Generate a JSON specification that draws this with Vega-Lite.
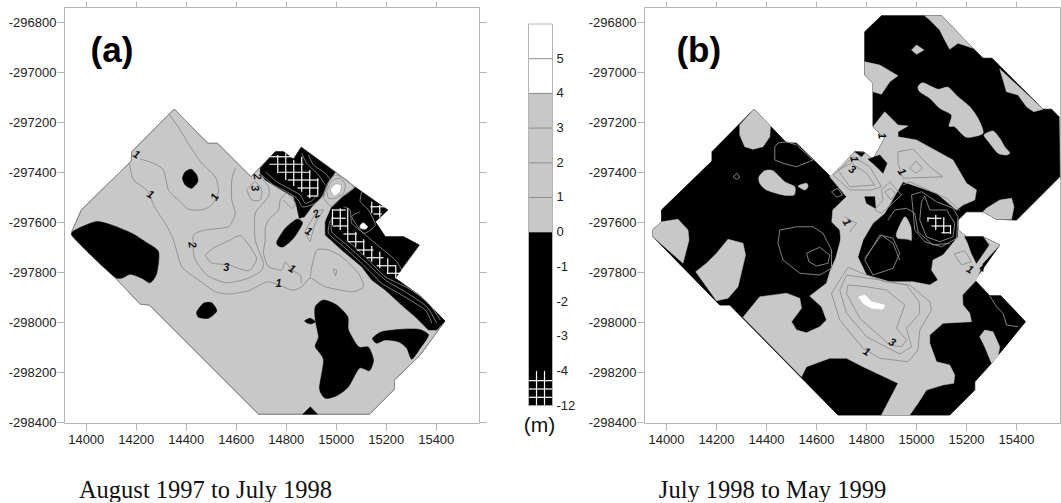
{
"$schema":"https://vega.github.io/schema/vega-lite/v6.json",
"background":"white",
"padding":{"left":7,"top":0,"right":0,"bottom":0},
"spacing":0,
"config":{"font":"Liberation Sans","view":{"stroke":null}},
"datasets":{
"aFoot":[{"id":1,"x":14354,"y":-297147},{"id":1,"x":14488,"y":-297284},{"id":1,"x":14527,"y":-297284},{"id":1,"x":14661,"y":-297418},{"id":1,"x":14758,"y":-297318},{"id":1,"x":14791,"y":-297318},{"id":1,"x":14831,"y":-297348},{"id":1,"x":14862,"y":-297300},{"id":1,"x":14998,"y":-297398},{"id":1,"x":15078,"y":-297460},{"id":1,"x":15208,"y":-297551},{"id":1,"x":15158,"y":-297598},{"id":1,"x":15198,"y":-297658},{"id":1,"x":15271,"y":-297658},{"id":1,"x":15334,"y":-297691},{"id":1,"x":15271,"y":-297778},{"id":1,"x":15238,"y":-297824},{"id":1,"x":15338,"y":-297895},{"id":1,"x":15437,"y":-297995},{"id":1,"x":15338,"y":-298131},{"id":1,"x":15235,"y":-298231},{"id":1,"x":15235,"y":-298268},{"id":1,"x":15135,"y":-298368},{"id":1,"x":14691,"y":-298368},{"id":1,"x":14254,"y":-297931},{"id":1,"x":14218,"y":-297928},{"id":1,"x":13944,"y":-297638},{"id":1,"x":13982,"y":-297551},{"id":1,"x":14182,"y":-297355},{"id":1,"x":14184,"y":-297318}],
"aBlackL":[{"id":1,"x":14698,"y":-297384},{"id":1,"x":14758,"y":-297318},{"id":1,"x":14791,"y":-297318},{"id":1,"x":14831,"y":-297348},{"id":1,"x":14862,"y":-297300},{"id":1,"x":14998,"y":-297400},{"id":1,"x":14971,"y":-297438},{"id":1,"x":14951,"y":-297491},{"id":1,"x":14904,"y":-297538},{"id":1,"x":14875,"y":-297578},{"id":1,"x":14854,"y":-297584},{"id":1,"x":14844,"y":-297538},{"id":1,"x":14831,"y":-297498},{"id":1,"x":14771,"y":-297464},{"id":1,"x":14718,"y":-297431},{"id":1,"x":14698,"y":-297404},
{"id":2,"x":15078,"y":-297460},{"id":2,"x":15208,"y":-297551},{"id":2,"x":15158,"y":-297598},{"id":2,"x":15198,"y":-297658},{"id":2,"x":15271,"y":-297658},{"id":2,"x":15334,"y":-297691},{"id":2,"x":15271,"y":-297775},{"id":2,"x":15238,"y":-297824},{"id":2,"x":15338,"y":-297895},{"id":2,"x":15437,"y":-297995},{"id":2,"x":15404,"y":-298031},{"id":2,"x":15371,"y":-298031},{"id":2,"x":15318,"y":-297978},{"id":2,"x":15271,"y":-297938},{"id":2,"x":15198,"y":-297871},{"id":2,"x":15144,"y":-297831},{"id":2,"x":15104,"y":-297778},{"id":2,"x":15024,"y":-297711},{"id":2,"x":14958,"y":-297651},{"id":2,"x":14958,"y":-297598},{"id":2,"x":14984,"y":-297538},{"id":2,"x":15024,"y":-297500},
{"id":3,"x":14868,"y":-298368},{"id":3,"x":14898,"y":-298338},{"id":3,"x":14927,"y":-298368}],
"aBlackS":[{"id":1,"x":14387,"y":-297424},{"id":1,"x":14398,"y":-297398},{"id":1,"x":14422,"y":-297388},{"id":1,"x":14444,"y":-297411},{"id":1,"x":14448,"y":-297438},{"id":1,"x":14424,"y":-297464},{"id":1,"x":14398,"y":-297451},
{"id":2,"x":13947,"y":-297638},{"id":2,"x":14038,"y":-297598},{"id":2,"x":14103,"y":-297611},{"id":2,"x":14184,"y":-297644},{"id":2,"x":14238,"y":-297678},{"id":2,"x":14291,"y":-297718},{"id":2,"x":14284,"y":-297804},{"id":2,"x":14258,"y":-297842},{"id":2,"x":14224,"y":-297824},{"id":2,"x":14178,"y":-297808},{"id":2,"x":14118,"y":-297820},{"id":2,"x":13960,"y":-297671},
{"id":3,"x":14444,"y":-297958},{"id":3,"x":14471,"y":-297924},{"id":3,"x":14504,"y":-297922},{"id":3,"x":14524,"y":-297955},{"id":3,"x":14491,"y":-297984},{"id":3,"x":14451,"y":-297980},
{"id":4,"x":14764,"y":-297678},{"id":4,"x":14798,"y":-297624},{"id":4,"x":14844,"y":-297588},{"id":4,"x":14867,"y":-297604},{"id":4,"x":14831,"y":-297664},{"id":4,"x":14791,"y":-297698},{"id":4,"x":14771,"y":-297695},
{"id":5,"x":14918,"y":-297938},{"id":5,"x":14951,"y":-297911},{"id":5,"x":15004,"y":-297931},{"id":5,"x":15048,"y":-297978},{"id":5,"x":15051,"y":-298031},{"id":5,"x":15091,"y":-298098},{"id":5,"x":15131,"y":-298100},{"id":5,"x":15151,"y":-298151},{"id":5,"x":15135,"y":-298194},{"id":5,"x":15094,"y":-298184},{"id":5,"x":15051,"y":-298258},{"id":5,"x":15004,"y":-298294},{"id":5,"x":14958,"y":-298304},{"id":5,"x":14935,"y":-298264},{"id":5,"x":14951,"y":-298151},{"id":5,"x":14918,"y":-298098},{"id":5,"x":14931,"y":-298058},{"id":5,"x":14918,"y":-297991},
{"id":6,"x":14875,"y":-297995},{"id":6,"x":14898,"y":-297984},{"id":6,"x":14918,"y":-297998},{"id":6,"x":14898,"y":-298007},
{"id":7,"x":15147,"y":-298064},{"id":7,"x":15184,"y":-298038},{"id":7,"x":15264,"y":-298028},{"id":7,"x":15331,"y":-298028},{"id":7,"x":15371,"y":-298051},{"id":7,"x":15338,"y":-298104},{"id":7,"x":15304,"y":-298148},{"id":7,"x":15284,"y":-298104},{"id":7,"x":15251,"y":-298078},{"id":7,"x":15198,"y":-298071},{"id":7,"x":15164,"y":-298084}],
"aWhite":[{"id":1,"x":14978,"y":-297471},{"id":1,"x":14998,"y":-297447},{"id":1,"x":15022,"y":-297451},{"id":1,"x":15018,"y":-297478},{"id":1,"x":14995,"y":-297495},
{"id":2,"x":15098,"y":-297611},{"id":2,"x":15111,"y":-297602},{"id":2,"x":15128,"y":-297618},{"id":2,"x":15118,"y":-297628},{"id":2,"x":15098,"y":-297624}],
"aLines":[{"id":1,"x":14334,"y":-297168},{"id":1,"x":14378,"y":-297231},{"id":1,"x":14418,"y":-297298},{"id":1,"x":14464,"y":-297364},{"id":1,"x":14518,"y":-297418},{"id":1,"x":14531,"y":-297478},{"id":1,"x":14504,"y":-297531},{"id":1,"x":14464,"y":-297551},{"id":1,"x":14411,"y":-297548},{"id":1,"x":14378,"y":-297518},{"id":1,"x":14331,"y":-297471},{"id":1,"x":14311,"y":-297391},{"id":1,"x":14271,"y":-297364},{"id":1,"x":14218,"y":-297347},
{"id":2,"x":14174,"y":-297364},{"id":2,"x":14191,"y":-297431},{"id":2,"x":14244,"y":-297471},{"id":2,"x":14278,"y":-297544},{"id":2,"x":14318,"y":-297604},{"id":2,"x":14351,"y":-297671},{"id":2,"x":14384,"y":-297778},{"id":2,"x":14451,"y":-297831},{"id":2,"x":14518,"y":-297878},{"id":2,"x":14571,"y":-297887},{"id":2,"x":14651,"y":-297874},{"id":2,"x":14731,"y":-297838},{"id":2,"x":14824,"y":-297871},{"id":2,"x":14864,"y":-297858},{"id":2,"x":14898,"y":-297824},{"id":2,"x":14958,"y":-297858},{"id":2,"x":15064,"y":-297878},{"id":2,"x":15111,"y":-297858},{"id":2,"x":15091,"y":-297804},{"id":2,"x":15024,"y":-297738},{"id":2,"x":14971,"y":-297711},{"id":2,"x":14924,"y":-297711},{"id":2,"x":14904,"y":-297778},{"id":2,"x":14898,"y":-297824},
{"id":3,"x":14598,"y":-297384},{"id":3,"x":14584,"y":-297431},{"id":3,"x":14584,"y":-297511},{"id":3,"x":14598,"y":-297564},{"id":3,"x":14571,"y":-297618},{"id":3,"x":14478,"y":-297631},{"id":3,"x":14431,"y":-297651},{"id":3,"x":14431,"y":-297718},{"id":3,"x":14438,"y":-297751},{"id":3,"x":14484,"y":-297811},{"id":3,"x":14558,"y":-297842},{"id":3,"x":14638,"y":-297828},{"id":3,"x":14698,"y":-297798},{"id":3,"x":14711,"y":-297764},{"id":3,"x":14678,"y":-297671},{"id":3,"x":14678,"y":-297564},{"id":3,"x":14731,"y":-297498},{"id":3,"x":14731,"y":-297458},{"id":3,"x":14703,"y":-297423},
{"id":4,"x":14478,"y":-297731},{"id":4,"x":14511,"y":-297703},{"id":4,"x":14578,"y":-297671},{"id":4,"x":14623,"y":-297655},{"id":4,"x":14683,"y":-297743},{"id":4,"x":14651,"y":-297794},{"id":4,"x":14571,"y":-297771},{"id":4,"x":14503,"y":-297763},{"id":4,"x":14478,"y":-297731},
{"id":5,"x":14791,"y":-297511},{"id":5,"x":14824,"y":-297544},{"id":5,"x":14838,"y":-297524},{"id":5,"x":14804,"y":-297484},{"id":5,"x":14778,"y":-297511},{"id":5,"x":14771,"y":-297551},{"id":5,"x":14731,"y":-297591},{"id":5,"x":14718,"y":-297624},{"id":5,"x":14718,"y":-297671},{"id":5,"x":14711,"y":-297724},{"id":5,"x":14731,"y":-297778},{"id":5,"x":14784,"y":-297791},{"id":5,"x":14798,"y":-297758},{"id":5,"x":14824,"y":-297791},{"id":5,"x":14858,"y":-297811},{"id":5,"x":14862,"y":-297844},
{"id":6,"x":14644,"y":-297471},{"id":6,"x":14678,"y":-297438},{"id":6,"x":14704,"y":-297471},{"id":6,"x":14698,"y":-297511},{"id":6,"x":14664,"y":-297511},{"id":6,"x":14644,"y":-297471},
{"id":7,"x":14898,"y":-297678},{"id":7,"x":14878,"y":-297638},{"id":7,"x":14904,"y":-297591},{"id":7,"x":14924,"y":-297558},{"id":7,"x":14951,"y":-297551},{"id":7,"x":14918,"y":-297604},{"id":7,"x":14898,"y":-297678},
{"id":8,"x":14991,"y":-297788},{"id":8,"x":15004,"y":-297791},{"id":8,"x":14998,"y":-297814},{"id":8,"x":14991,"y":-297788},
{"id":9,"x":14964,"y":-297478},{"id":9,"x":14984,"y":-297434},{"id":9,"x":15018,"y":-297424},{"id":9,"x":15038,"y":-297451},{"id":9,"x":15031,"y":-297484},{"id":9,"x":14998,"y":-297504},{"id":9,"x":14971,"y":-297504},{"id":9,"x":14964,"y":-297478},
{"id":10,"x":14951,"y":-297504},{"id":10,"x":14964,"y":-297451},{"id":10,"x":14998,"y":-297411},{"id":10,"x":15044,"y":-297431},{"id":10,"x":15071,"y":-297464},{"id":10,"x":15024,"y":-297500},{"id":10,"x":14984,"y":-297538},{"id":10,"x":14951,"y":-297504}],
"aDark":[{"id":1,"x":14704,"y":-297411},{"id":1,"x":14751,"y":-297451},{"id":1,"x":14804,"y":-297478},{"id":1,"x":14844,"y":-297504},{"id":1,"x":14867,"y":-297538},{"id":1,"x":14904,"y":-297531},{"id":1,"x":14938,"y":-297511},{"id":1,"x":14958,"y":-297471},
{"id":2,"x":14718,"y":-297398},{"id":2,"x":14764,"y":-297438},{"id":2,"x":14818,"y":-297468},{"id":2,"x":14858,"y":-297491},{"id":2,"x":14878,"y":-297524},{"id":2,"x":14904,"y":-297514},{"id":2,"x":14928,"y":-297491},
{"id":3,"x":14864,"y":-297324},{"id":3,"x":14884,"y":-297364},{"id":3,"x":14931,"y":-297411},{"id":3,"x":14958,"y":-297451},
{"id":4,"x":14891,"y":-297331},{"id":4,"x":14911,"y":-297371},{"id":4,"x":14958,"y":-297404},{"id":4,"x":14978,"y":-297431},
{"id":5,"x":14978,"y":-297591},{"id":5,"x":14971,"y":-297644},{"id":5,"x":15031,"y":-297698},{"id":5,"x":15104,"y":-297764},{"id":5,"x":15184,"y":-297844},{"id":5,"x":15264,"y":-297891},{"id":5,"x":15358,"y":-297951},{"id":5,"x":15384,"y":-298004},
{"id":6,"x":14984,"y":-297578},{"id":6,"x":14984,"y":-297638},{"id":6,"x":15044,"y":-297691},{"id":6,"x":15118,"y":-297758},{"id":6,"x":15198,"y":-297831},{"id":6,"x":15278,"y":-297878},{"id":6,"x":15364,"y":-297938},{"id":6,"x":15404,"y":-298004},
{"id":7,"x":15044,"y":-297671},{"id":7,"x":15118,"y":-297738},{"id":7,"x":15198,"y":-297818},{"id":7,"x":15291,"y":-297864},{"id":7,"x":15371,"y":-297924},{"id":7,"x":15418,"y":-297991},
{"id":8,"x":15031,"y":-297538},{"id":8,"x":15058,"y":-297551},{"id":8,"x":15064,"y":-297604},{"id":8,"x":15104,"y":-297638},{"id":8,"x":15158,"y":-297684},{"id":8,"x":15238,"y":-297751},{"id":8,"x":15264,"y":-297791},
{"id":9,"x":15104,"y":-297478},{"id":9,"x":15098,"y":-297518},{"id":9,"x":15131,"y":-297551},{"id":9,"x":15158,"y":-297611},{"id":9,"x":15111,"y":-297644},{"id":9,"x":15064,"y":-297578},{"id":9,"x":15098,"y":-297558}],
"aHatch":[{"x":14768,"x2":14768,"y":-297331,"y2":-297404},{"x":14800,"x2":14800,"y":-297324,"y2":-297431},{"x":14832,"x2":14832,"y":-297351,"y2":-297455},{"x":14864,"x2":14864,"y":-297338,"y2":-297478},{"x":14896,"x2":14896,"y":-297391,"y2":-297504},{"x":14928,"x2":14928,"y":-297424,"y2":-297491},
{"x":14738,"x2":14831,"y":-297338,"y2":-297338},{"x":14734,"x2":14871,"y":-297368,"y2":-297368},{"x":14771,"x2":14898,"y":-297400,"y2":-297400},{"x":14808,"x2":14931,"y":-297431,"y2":-297431},{"x":14847,"x2":14931,"y":-297463,"y2":-297463},{"x":14886,"x2":14931,"y":-297495,"y2":-297495},
{"x":14987,"x2":14987,"y":-297547,"y2":-297611},{"x":15018,"x2":15018,"y":-297544,"y2":-297631},{"x":15048,"x2":15048,"y":-297544,"y2":-297674},{"x":15080,"x2":15080,"y":-297638,"y2":-297700},{"x":15112,"x2":15112,"y":-297668,"y2":-297731},{"x":15144,"x2":15144,"y":-297695,"y2":-297758},{"x":15176,"x2":15176,"y":-297718,"y2":-297784},{"x":15208,"x2":15208,"y":-297744,"y2":-297807},{"x":15240,"x2":15240,"y":-297771,"y2":-297824},
{"x":14987,"x2":15040,"y":-297551,"y2":-297551},{"x":14987,"x2":15040,"y":-297584,"y2":-297584},{"x":14987,"x2":15048,"y":-297615,"y2":-297615},{"x":15031,"x2":15084,"y":-297647,"y2":-297647},{"x":15048,"x2":15115,"y":-297678,"y2":-297678},{"x":15084,"x2":15151,"y":-297711,"y2":-297711},{"x":15124,"x2":15191,"y":-297742,"y2":-297742},{"x":15164,"x2":15238,"y":-297774,"y2":-297774},{"x":15204,"x2":15258,"y":-297804,"y2":-297804},
{"x":15144,"x2":15144,"y":-297518,"y2":-297564},{"x":15176,"x2":15176,"y":-297531,"y2":-297580},{"x":15138,"x2":15198,"y":-297538,"y2":-297538},{"x":15151,"x2":15184,"y":-297567,"y2":-297567}],
"aText":[{"g":"r30","t":"1","x":14202,"y":-297331},{"g":"r30","t":"1","x":14824,"y":-297788},{"g":"r30","t":"1","x":14891,"y":-297638},{"g":"r30","t":"1","x":14258,"y":-297491},{"g":"rm60","t":"1","x":14518,"y":-297500},{"g":"r80","t":"2","x":14424,"y":-297691},{"g":"r0","t":"3","x":14562,"y":-297784},{"g":"r0","t":"1","x":14771,"y":-297848},{"g":"rm30","t":"2","x":14924,"y":-297568},{"g":"r80","t":"3","x":14675,"y":-297464},{"g":"r80","t":"2","x":14684,"y":-297418}],
"bFoot":[{"id":1,"x":14352,"y":-297148},{"id":1,"x":14482,"y":-297282},{"id":1,"x":14522,"y":-297284},{"id":1,"x":14659,"y":-297418},{"id":1,"x":14755,"y":-297318},{"id":1,"x":14788,"y":-297318},{"id":1,"x":14828,"y":-297348},{"id":1,"x":14875,"y":-297264},{"id":1,"x":14828,"y":-297218},{"id":1,"x":14828,"y":-297044},{"id":1,"x":14795,"y":-297011},{"id":1,"x":14795,"y":-296838},{"id":1,"x":14862,"y":-296774},{"id":1,"x":15102,"y":-296774},{"id":1,"x":15228,"y":-296904},{"id":1,"x":15268,"y":-296944},{"id":1,"x":15304,"y":-296944},{"id":1,"x":15508,"y":-297148},{"id":1,"x":15542,"y":-297148},{"id":1,"x":15572,"y":-297178},{"id":1,"x":15575,"y":-297418},{"id":1,"x":15402,"y":-297591},{"id":1,"x":15322,"y":-297588},{"id":1,"x":15268,"y":-297558},{"id":1,"x":15202,"y":-297558},{"id":1,"x":15168,"y":-297591},{"id":1,"x":15168,"y":-297631},{"id":1,"x":15202,"y":-297658},{"id":1,"x":15268,"y":-297658},{"id":1,"x":15335,"y":-297691},{"id":1,"x":15235,"y":-297831},{"id":1,"x":15295,"y":-297894},{"id":1,"x":15339,"y":-297894},{"id":1,"x":15438,"y":-297998},{"id":1,"x":15302,"y":-298164},{"id":1,"x":15235,"y":-298238},{"id":1,"x":15235,"y":-298271},{"id":1,"x":15135,"y":-298371},{"id":1,"x":14688,"y":-298371},{"id":1,"x":14255,"y":-297931},{"id":1,"x":14215,"y":-297931},{"id":1,"x":13948,"y":-297658},{"id":1,"x":13946,"y":-297631},{"id":1,"x":13982,"y":-297598},{"id":1,"x":13982,"y":-297551},{"id":1,"x":14184,"y":-297355},{"id":1,"x":14184,"y":-297318}],
"bGreyL":[{"id":1,"x":14352,"y":-297148},{"id":1,"x":14418,"y":-297215},{"id":1,"x":14415,"y":-297258},{"id":1,"x":14388,"y":-297298},{"id":1,"x":14348,"y":-297308},{"id":1,"x":14315,"y":-297298},{"id":1,"x":14295,"y":-297251},{"id":1,"x":14295,"y":-297211},
{"id":2,"x":13946,"y":-297631},{"id":2,"x":13982,"y":-297598},{"id":2,"x":14048,"y":-297588},{"id":2,"x":14088,"y":-297631},{"id":2,"x":14092,"y":-297671},{"id":2,"x":14068,"y":-297764},{"id":2,"x":13948,"y":-297658},
{"id":3,"x":14119,"y":-297798},{"id":3,"x":14162,"y":-297764},{"id":3,"x":14202,"y":-297724},{"id":3,"x":14248,"y":-297668},{"id":3,"x":14308,"y":-297684},{"id":3,"x":14318,"y":-297731},{"id":3,"x":14288,"y":-297858},{"id":3,"x":14248,"y":-297904},{"id":3,"x":14202,"y":-297914},
{"id":4,"x":14308,"y":-297980},{"id":4,"x":14375,"y":-297898},{"id":4,"x":14482,"y":-297884},{"id":4,"x":14535,"y":-297904},{"id":4,"x":14542,"y":-297944},{"id":4,"x":14502,"y":-297998},{"id":4,"x":14522,"y":-298031},{"id":4,"x":14562,"y":-298042},{"id":4,"x":14615,"y":-298018},{"id":4,"x":14642,"y":-297991},{"id":4,"x":14622,"y":-297938},{"id":4,"x":14575,"y":-297895},{"id":4,"x":14642,"y":-297844},{"id":4,"x":14655,"y":-297799},{"id":4,"x":14679,"y":-297743},{"id":4,"x":14695,"y":-297683},{"id":4,"x":14707,"y":-297631},{"id":4,"x":14787,"y":-297631},{"id":4,"x":14787,"y":-297671},{"id":4,"x":14767,"y":-297738},{"id":4,"x":14802,"y":-297811},{"id":4,"x":14895,"y":-297838},{"id":4,"x":14988,"y":-297838},{"id":4,"x":15055,"y":-297851},{"id":4,"x":15088,"y":-297831},{"id":4,"x":15062,"y":-297791},{"id":4,"x":15068,"y":-297751},{"id":4,"x":15108,"y":-297731},{"id":4,"x":15168,"y":-297658},{"id":4,"x":15168,"y":-297631},{"id":4,"x":15202,"y":-297658},{"id":4,"x":15268,"y":-297658},{"id":4,"x":15335,"y":-297691},{"id":4,"x":15268,"y":-297764},{"id":4,"x":15242,"y":-297831},{"id":4,"x":15186,"y":-297891},{"id":4,"x":15188,"y":-297931},{"id":4,"x":15215,"y":-297964},{"id":4,"x":15222,"y":-297998},{"id":4,"x":15108,"y":-298004},{"id":4,"x":15055,"y":-298051},{"id":4,"x":15055,"y":-298084},{"id":4,"x":15082,"y":-298158},{"id":4,"x":15135,"y":-298171},{"id":4,"x":15155,"y":-298211},{"id":4,"x":15151,"y":-298244},{"id":4,"x":15108,"y":-298251},{"id":4,"x":15042,"y":-298271},{"id":4,"x":15008,"y":-298324},{"id":4,"x":14975,"y":-298371},{"id":4,"x":14862,"y":-298371},{"id":4,"x":14928,"y":-298244},{"id":4,"x":14788,"y":-298178},{"id":4,"x":14722,"y":-298144},{"id":4,"x":14655,"y":-298144},{"id":4,"x":14562,"y":-298178},{"id":4,"x":14542,"y":-298218},
{"id":5,"x":14828,"y":-297218},{"id":5,"x":14875,"y":-297158},{"id":5,"x":14928,"y":-297211},{"id":5,"x":14968,"y":-297215},{"id":5,"x":14928,"y":-297238},{"id":5,"x":14928,"y":-297258},{"id":5,"x":15002,"y":-297271},{"id":5,"x":15148,"y":-297351},{"id":5,"x":15202,"y":-297444},{"id":5,"x":15242,"y":-297471},{"id":5,"x":15235,"y":-297511},{"id":5,"x":15188,"y":-297531},{"id":5,"x":15162,"y":-297551},{"id":5,"x":15082,"y":-297484},{"id":5,"x":14948,"y":-297438},{"id":5,"x":14875,"y":-297564},{"id":5,"x":14828,"y":-297604},{"id":5,"x":14788,"y":-297671},{"id":5,"x":14767,"y":-297738},{"id":5,"x":14707,"y":-297735},{"id":5,"x":14695,"y":-297631},{"id":5,"x":14663,"y":-297599},{"id":5,"x":14667,"y":-297551},{"id":5,"x":14722,"y":-297498},{"id":5,"x":14655,"y":-297418},{"id":5,"x":14755,"y":-297318},{"id":5,"x":14788,"y":-297318},{"id":5,"x":14828,"y":-297348},{"id":5,"x":14875,"y":-297264},
{"id":6,"x":14982,"y":-296911},{"id":6,"x":15002,"y":-296891},{"id":6,"x":15032,"y":-296911},{"id":6,"x":15002,"y":-296928},
{"id":7,"x":15035,"y":-296774},{"id":7,"x":15102,"y":-296774},{"id":7,"x":15228,"y":-296904},{"id":7,"x":15168,"y":-296884},{"id":7,"x":15135,"y":-296908},{"id":7,"x":15108,"y":-296858},{"id":7,"x":15095,"y":-296831},{"id":7,"x":15055,"y":-296791},
{"id":8,"x":14795,"y":-296958},{"id":8,"x":14855,"y":-296971},{"id":8,"x":14928,"y":-297014},{"id":8,"x":14895,"y":-297038},{"id":8,"x":14862,"y":-297088},{"id":8,"x":14828,"y":-297078},{"id":8,"x":14828,"y":-297044},{"id":8,"x":14795,"y":-297011},
{"id":9,"x":15335,"y":-296987},{"id":9,"x":15508,"y":-297148},{"id":9,"x":15471,"y":-297158},{"id":9,"x":15442,"y":-297138},{"id":9,"x":15408,"y":-297091},{"id":9,"x":15362,"y":-297078},{"id":9,"x":15348,"y":-297031},
{"id":10,"x":15282,"y":-297544},{"id":10,"x":15335,"y":-297511},{"id":10,"x":15382,"y":-297504},{"id":10,"x":15392,"y":-297538},{"id":10,"x":15382,"y":-297588},{"id":10,"x":15322,"y":-297588},{"id":10,"x":15268,"y":-297558},
{"id":11,"x":15255,"y":-298058},{"id":11,"x":15275,"y":-298031},{"id":11,"x":15308,"y":-298038},{"id":11,"x":15335,"y":-298098},{"id":11,"x":15328,"y":-298138},{"id":11,"x":15302,"y":-298164},{"id":11,"x":15275,"y":-298098}],
"bGreyS":[{"id":1,"x":14372,"y":-297418},{"id":1,"x":14395,"y":-297394},{"id":1,"x":14428,"y":-297394},{"id":1,"x":14475,"y":-297438},{"id":1,"x":14515,"y":-297458},{"id":1,"x":14512,"y":-297491},{"id":1,"x":14468,"y":-297491},{"id":1,"x":14402,"y":-297471},{"id":1,"x":14375,"y":-297444},
{"id":2,"x":14528,"y":-297455},{"id":2,"x":14562,"y":-297444},{"id":2,"x":14568,"y":-297458},{"id":2,"x":14555,"y":-297471},
{"id":3,"x":15008,"y":-297058},{"id":3,"x":15028,"y":-297042},{"id":3,"x":15088,"y":-297068},{"id":3,"x":15128,"y":-297060},{"id":3,"x":15168,"y":-297098},{"id":3,"x":15215,"y":-297138},{"id":3,"x":15248,"y":-297184},{"id":3,"x":15268,"y":-297244},{"id":3,"x":15202,"y":-297260},{"id":3,"x":15155,"y":-297218},{"id":3,"x":15132,"y":-297215},{"id":3,"x":15142,"y":-297171},{"id":3,"x":15095,"y":-297144},{"id":3,"x":15055,"y":-297104},{"id":3,"x":15015,"y":-297078},
{"id":4,"x":15272,"y":-297251},{"id":4,"x":15308,"y":-297235},{"id":4,"x":15335,"y":-297264},{"id":4,"x":15355,"y":-297298},{"id":4,"x":15375,"y":-297322},{"id":4,"x":15362,"y":-297331},{"id":4,"x":15328,"y":-297324},{"id":4,"x":15295,"y":-297284},
{"id":5,"x":14922,"y":-297644},{"id":5,"x":14955,"y":-297578},{"id":5,"x":14979,"y":-297618},{"id":5,"x":14982,"y":-297671},{"id":5,"x":14968,"y":-297668},{"id":5,"x":14928,"y":-297664}],
"bBlack":[{"id":1,"x":15195,"y":-297658},{"id":1,"x":15268,"y":-297658},{"id":1,"x":15292,"y":-297691},{"id":1,"x":15242,"y":-297764},{"id":1,"x":15222,"y":-297724},{"id":1,"x":15208,"y":-297684},
{"id":2,"x":14795,"y":-297498},{"id":2,"x":14835,"y":-297498},{"id":2,"x":14838,"y":-297544},{"id":2,"x":14802,"y":-297524},
{"id":3,"x":14808,"y":-297348},{"id":3,"x":14855,"y":-297331},{"id":3,"x":14884,"y":-297364},{"id":3,"x":14868,"y":-297404},{"id":3,"x":14835,"y":-297371},
{"id":4,"x":14755,"y":-297318},{"id":4,"x":14795,"y":-297322},{"id":4,"x":14782,"y":-297338},
{"id":5,"x":15255,"y":-297784},{"id":5,"x":15271,"y":-297771},{"id":5,"x":15268,"y":-297798}],
"bWhite":[{"id":1,"x":14770,"y":-297898},{"id":1,"x":14795,"y":-297891},{"id":1,"x":14822,"y":-297918},{"id":1,"x":14875,"y":-297931},{"id":1,"x":14868,"y":-297948},{"id":1,"x":14822,"y":-297944},{"id":1,"x":14788,"y":-297924}],
"bLines":[{"id":1,"x":14728,"y":-297780},{"id":1,"x":14662,"y":-297884},{"id":1,"x":14695,"y":-297991},{"id":1,"x":14788,"y":-298104},{"id":1,"x":14855,"y":-298144},{"id":1,"x":14968,"y":-298158},{"id":1,"x":15008,"y":-298111},{"id":1,"x":15015,"y":-298031},{"id":1,"x":15062,"y":-297951},{"id":1,"x":15055,"y":-297918},{"id":1,"x":14975,"y":-297851},{"id":1,"x":14875,"y":-297838},{"id":1,"x":14802,"y":-297811},{"id":1,"x":14728,"y":-297780},
{"id":2,"x":14722,"y":-297811},{"id":2,"x":14695,"y":-297871},{"id":2,"x":14722,"y":-297964},{"id":2,"x":14802,"y":-298058},{"id":2,"x":14935,"y":-298127},{"id":2,"x":14982,"y":-298098},{"id":2,"x":14962,"y":-298024},{"id":2,"x":15015,"y":-297964},{"id":2,"x":15012,"y":-297918},{"id":2,"x":14962,"y":-297851},{"id":2,"x":14855,"y":-297831},{"id":2,"x":14722,"y":-297811},
{"id":3,"x":14728,"y":-297851},{"id":3,"x":14722,"y":-297884},{"id":3,"x":14775,"y":-297984},{"id":3,"x":14895,"y":-298091},{"id":3,"x":14942,"y":-298098},{"id":3,"x":14962,"y":-298071},{"id":3,"x":14922,"y":-298024},{"id":3,"x":14955,"y":-297931},{"id":3,"x":14882,"y":-297871},{"id":3,"x":14802,"y":-297858},{"id":3,"x":14728,"y":-297851},
{"id":4,"x":14795,"y":-297751},{"id":4,"x":14855,"y":-297651},{"id":4,"x":14908,"y":-297664},{"id":4,"x":14935,"y":-297724},{"id":4,"x":14908,"y":-297784},{"id":4,"x":14828,"y":-297811},{"id":4,"x":14795,"y":-297751},
{"id":5,"x":14455,"y":-297631},{"id":5,"x":14448,"y":-297684},{"id":5,"x":14468,"y":-297751},{"id":5,"x":14535,"y":-297804},{"id":5,"x":14615,"y":-297811},{"id":5,"x":14662,"y":-297784},{"id":5,"x":14662,"y":-297711},{"id":5,"x":14628,"y":-297644},{"id":5,"x":14588,"y":-297618},{"id":5,"x":14522,"y":-297618},{"id":5,"x":14455,"y":-297631},
{"id":6,"x":14562,"y":-297724},{"id":6,"x":14615,"y":-297700},{"id":6,"x":14655,"y":-297731},{"id":6,"x":14648,"y":-297764},{"id":6,"x":14602,"y":-297775},{"id":6,"x":14572,"y":-297758},{"id":6,"x":14562,"y":-297724},
{"id":7,"x":14435,"y":-297298},{"id":7,"x":14447,"y":-297283},{"id":7,"x":14482,"y":-297278},{"id":7,"x":14522,"y":-297291},{"id":7,"x":14588,"y":-297351},{"id":7,"x":14522,"y":-297378},{"id":7,"x":14468,"y":-297364},{"id":7,"x":14435,"y":-297351},{"id":7,"x":14435,"y":-297298},
{"id":8,"x":14268,"y":-297418},{"id":8,"x":14284,"y":-297404},{"id":8,"x":14295,"y":-297420},{"id":8,"x":14282,"y":-297428},{"id":8,"x":14268,"y":-297418},
{"id":9,"x":14928,"y":-297318},{"id":9,"x":14988,"y":-297307},{"id":9,"x":15055,"y":-297378},{"id":9,"x":15108,"y":-297418},{"id":9,"x":14948,"y":-297424},{"id":9,"x":14928,"y":-297364},{"id":9,"x":14928,"y":-297318},
{"id":10,"x":14975,"y":-297384},{"id":10,"x":14999,"y":-297355},{"id":10,"x":15026,"y":-297384},{"id":10,"x":14999,"y":-297404},{"id":10,"x":14975,"y":-297384},
{"id":11,"x":14748,"y":-297338},{"id":11,"x":14815,"y":-297378},{"id":11,"x":14862,"y":-297458},{"id":11,"x":14822,"y":-297471},{"id":11,"x":14735,"y":-297471},{"id":11,"x":14668,"y":-297411},{"id":11,"x":14715,"y":-297371},{"id":11,"x":14748,"y":-297338},
{"id":12,"x":14688,"y":-297391},{"id":12,"x":14742,"y":-297364},{"id":12,"x":14802,"y":-297404},{"id":12,"x":14835,"y":-297451},{"id":12,"x":14735,"y":-297458},{"id":12,"x":14688,"y":-297391},
{"id":13,"x":14835,"y":-297551},{"id":13,"x":14862,"y":-297564},{"id":13,"x":14942,"y":-297491},{"id":13,"x":14895,"y":-297438},{"id":13,"x":14862,"y":-297471},{"id":13,"x":14868,"y":-297511},{"id":13,"x":14835,"y":-297551},
{"id":14,"x":14875,"y":-297478},{"id":14,"x":14899,"y":-297464},{"id":14,"x":14918,"y":-297484},{"id":14,"x":14899,"y":-297511},{"id":14,"x":14875,"y":-297478},
{"id":15,"x":14662,"y":-297478},{"id":15,"x":14688,"y":-297464},{"id":15,"x":14706,"y":-297491},{"id":15,"x":14682,"y":-297500},{"id":15,"x":14662,"y":-297478},
{"id":16,"x":14715,"y":-297578},{"id":16,"x":14762,"y":-297604},{"id":16,"x":14735,"y":-297638},
{"id":17,"x":15152,"y":-297727},{"id":17,"x":15195,"y":-297714},{"id":17,"x":15222,"y":-297758},{"id":17,"x":15182,"y":-297771},{"id":17,"x":15152,"y":-297727},
{"id":18,"x":15295,"y":-297894},{"id":18,"x":15322,"y":-297938},{"id":18,"x":15348,"y":-297964},{"id":18,"x":15362,"y":-298011},{"id":18,"x":15408,"y":-298018},
{"id":19,"x":14948,"y":-297451},{"id":19,"x":14975,"y":-297438},{"id":19,"x":15042,"y":-297468},{"id":19,"x":15122,"y":-297504},{"id":19,"x":15175,"y":-297551},
{"id":20,"x":14982,"y":-297491},{"id":20,"x":15022,"y":-297478},{"id":20,"x":15082,"y":-297518},{"id":20,"x":15148,"y":-297544},{"id":20,"x":15168,"y":-297578},{"id":20,"x":15162,"y":-297664},{"id":20,"x":15102,"y":-297698},{"id":20,"x":15035,"y":-297678},{"id":20,"x":14995,"y":-297631},{"id":20,"x":14988,"y":-297551},{"id":20,"x":14982,"y":-297491},
{"id":21,"x":15022,"y":-297518},{"id":21,"x":15035,"y":-297495},{"id":21,"x":15055,"y":-297551},{"id":21,"x":15122,"y":-297551},{"id":21,"x":15155,"y":-297604},{"id":21,"x":15148,"y":-297658},{"id":21,"x":15095,"y":-297678},{"id":21,"x":15042,"y":-297658},{"id":21,"x":15015,"y":-297591},{"id":21,"x":15022,"y":-297518},
{"id":22,"x":14888,"y":-297591},{"id":22,"x":14915,"y":-297551},{"id":22,"x":14962,"y":-297544},{"id":22,"x":14995,"y":-297564},{"id":22,"x":15008,"y":-297638},{"id":22,"x":15068,"y":-297691},{"id":22,"x":15135,"y":-297684},
{"id":23,"x":14795,"y":-297744},{"id":23,"x":14862,"y":-297651},{"id":23,"x":14908,"y":-297684},{"id":23,"x":14935,"y":-297751}],
"bHatch":[{"x":15048,"x2":15048,"y":-297580,"y2":-297598},{"x":15079,"x2":15079,"y":-297571,"y2":-297631},{"x":15111,"x2":15111,"y":-297580,"y2":-297644},{"x":15138,"x2":15138,"y":-297611,"y2":-297647},{"x":15046,"x2":15102,"y":-297584,"y2":-297584},{"x":15062,"x2":15138,"y":-297615,"y2":-297615},{"x":15102,"x2":15135,"y":-297642,"y2":-297642}],
"bText":[{"g":"r30","t":"3","x":14744,"y":-297391},{"g":"r80","t":"1","x":14751,"y":-297348},{"g":"r80","t":"1","x":14862,"y":-297255},{"g":"r60","t":"1","x":14942,"y":-297400},{"g":"r60","t":"1","x":14722,"y":-297602},{"g":"r30","t":"1","x":15215,"y":-297791},{"g":"r30","t":"3","x":14904,"y":-298082},{"g":"r30","t":"1","x":14802,"y":-298120}],
"legend":[{"c":"white","lo":10,"hi":11},{"c":"white","lo":9,"hi":10},{"c":"grey","lo":8,"hi":9},{"c":"grey","lo":7,"hi":8},{"c":"grey","lo":6,"hi":7},{"c":"grey","lo":5,"hi":6},{"c":"black","lo":1,"hi":5},{"c":"black","lo":0,"hi":1}],
"legendLabels":[{"t":"5","p":10},{"t":"4","p":9},{"t":"3","p":8},{"t":"2","p":7},{"t":"1","p":6},{"t":"0","p":5},{"t":"-1","p":4},{"t":"-2","p":3},{"t":"-3","p":2},{"t":"-4","p":1},{"t":"-12","p":0}]
},
"hconcat":[
{"width":415,"height":416,"view":{"stroke":"#b4b4b4"},
"encoding":{"x":{"field":"x","type":"quantitative","scale":{"domain":[13913,15573],"nice":false,"zero":false},"axis":null},"y":{"field":"y","type":"quantitative","scale":{"domain":[-298403,-296739],"nice":false,"zero":false},"axis":null}},
"resolve":{"axis":{"x":"independent","y":"independent"}},
"layer":[
{"data":{"name":"aFoot"},"mark":{"type":"line","order":null,"interpolate":"linear-closed","fill":"#c8c8c8","stroke":"#8c8c8c","strokeWidth":1},
"encoding":{"detail":{"field":"id"},
"x":{"field":"x","type":"quantitative","axis":{"orient":"bottom","values":[14000,14200,14400,14600,14800,15000,15200,15400],"format":"d","domain":false,"grid":false,"tickSize":7,"tickColor":"#b4b4b4","labelColor":"#222222","labelFontSize":13,"labelPadding":3,"labelFont":"Liberation Sans","title":"August 1997 to July 1998","titleFont":"Liberation Serif","titleFontSize":24.5,"titleFontWeight":"normal","titleColor":"#111111","titleX":141,"titleY":67,"titleBaseline":"middle","titleAlign":"center"}},
"y":{"field":"y","type":"quantitative","axis":{"orient":"left","values":[-296800,-297000,-297200,-297400,-297600,-297800,-298000,-298200,-298400],"labelExpr":"'-'+format(abs(datum.value),'d')","domain":false,"grid":false,"tickSize":7,"tickColor":"#b4b4b4","labelColor":"#222222","labelFontSize":13,"labelPadding":1,"labelFont":"Liberation Sans","title":null}}}},
{"data":{"name":"aFoot"},"mark":{"type":"line","order":null,"interpolate":"linear-closed","stroke":"#8c8c8c","strokeWidth":1},
"encoding":{"detail":{"field":"id"},
"x":{"field":"x","type":"quantitative","axis":{"orient":"top","values":[14000,14200,14400,14600,14800,15000,15200,15400],"labels":false,"domain":false,"grid":false,"tickSize":6,"tickColor":"#b4b4b4","title":null}},
"y":{"field":"y","type":"quantitative","axis":{"orient":"right","values":[-296800,-297000,-297200,-297400,-297600,-297800,-298000,-298200,-298400],"labels":false,"domain":false,"grid":false,"tickSize":7,"tickColor":"#b4b4b4","title":null}}}},
{"data":{"name":"aBlackL"},"mark":{"type":"line","order":null,"interpolate":"linear-closed","fill":"#000000","stroke":"#000000","strokeWidth":0.5},"encoding":{"detail":{"field":"id"}}},
{"data":{"name":"aBlackS"},"mark":{"type":"line","order":null,"interpolate":"cardinal-closed","tension":0.3,"fill":"#000000","stroke":"#000000","strokeWidth":0.5},"encoding":{"detail":{"field":"id"}}},
{"data":{"name":"aLines"},"mark":{"type":"line","order":null,"interpolate":"cardinal","tension":0.4,"stroke":"#8c8c8c","strokeWidth":0.9},"encoding":{"detail":{"field":"id"}}},
{"data":{"name":"aWhite"},"mark":{"type":"line","order":null,"interpolate":"cardinal-closed","tension":0.3,"fill":"#ffffff","stroke":"#9a9a9a","strokeWidth":0.8},"encoding":{"detail":{"field":"id"}}},
{"data":{"name":"aDark"},"mark":{"type":"line","order":null,"interpolate":"cardinal","tension":0.4,"stroke":"#b0b0b0","strokeWidth":0.7},"encoding":{"detail":{"field":"id"}}},
{"data":{"name":"aHatch"},"mark":{"type":"rule","stroke":"#ffffff","strokeWidth":1.2},"encoding":{"x2":{"field":"x2"},"y2":{"field":"y2"}}},
{"data":{"name":"aText"},"transform":[{"filter":"datum.g=='r0'"}],"mark":{"type":"text","fontSize":11,"fontStyle":"italic","fontWeight":"bold","color":"#111111","angle":0},"encoding":{"text":{"field":"t"}}},
{"data":{"name":"aText"},"transform":[{"filter":"datum.g=='r30'"}],"mark":{"type":"text","fontSize":11,"fontStyle":"italic","fontWeight":"bold","color":"#111111","angle":30},"encoding":{"text":{"field":"t"}}},
{"data":{"name":"aText"},"transform":[{"filter":"datum.g=='rm30'"}],"mark":{"type":"text","fontSize":11,"fontStyle":"italic","fontWeight":"bold","color":"#111111","angle":330},"encoding":{"text":{"field":"t"}}},
{"data":{"name":"aText"},"transform":[{"filter":"datum.g=='rm60'"}],"mark":{"type":"text","fontSize":11,"fontStyle":"italic","fontWeight":"bold","color":"#111111","angle":300},"encoding":{"text":{"field":"t"}}},
{"data":{"name":"aText"},"transform":[{"filter":"datum.g=='r80'"}],"mark":{"type":"text","fontSize":11,"fontStyle":"italic","fontWeight":"bold","color":"#111111","angle":80},"encoding":{"text":{"field":"t"}}},
{"data":{"values":[{"t":"(a)","x":14105,"y":-296915}]},"mark":{"type":"text","font":"Liberation Sans","fontSize":35,"fontWeight":"bold","color":"#000000"},"encoding":{"text":{"field":"t"}}}
]},
{"width":100,"height":416,
"encoding":{"x":{"datum":40,"type":"quantitative","scale":{"domain":[-1.5,98.5],"nice":false,"zero":false},"axis":null},"y":{"field":"lo","type":"quantitative","scale":{"domain":[-0.5,11.49],"nice":false,"zero":false},"axis":null}},
"layer":[
{"data":{"name":"legend"},"mark":{"type":"rect"},"encoding":{"x2":{"datum":64},"y2":{"field":"hi"},"fill":{"field":"c","type":"nominal","legend":null,"scale":{"domain":["white","grey","black"],"range":["#ffffff","#c8c8c8","#000000"]}}}},
{"data":{"values":[{"p":6},{"p":7},{"p":8},{"p":9},{"p":10}]},"mark":{"type":"rule","stroke":"#8c8c8c","strokeWidth":1},"encoding":{"x2":{"datum":64},"y":{"field":"p","type":"quantitative"}}},
{"data":{"values":[{"p":0.24},{"p":0.48},{"p":0.72}]},"mark":{"type":"rule","stroke":"#ffffff","strokeWidth":1.2},"encoding":{"x2":{"datum":64},"y":{"field":"p","type":"quantitative"}}},
{"data":{"values":[{"lo":0,"hi":1}]},"mark":{"type":"rule","stroke":"#ffffff","strokeWidth":1.2},"encoding":{"x":{"datum":48},"y2":{"field":"hi"}}},
{"data":{"values":[{"lo":0,"hi":1}]},"mark":{"type":"rule","stroke":"#ffffff","strokeWidth":1.2},"encoding":{"x":{"datum":56},"y2":{"field":"hi"}}},
{"data":{"values":[{"lo":0,"hi":11}]},"mark":{"type":"rect","fillOpacity":0,"stroke":"#b4b4b4","strokeWidth":1},"encoding":{"x2":{"datum":64},"y2":{"field":"hi"}}},
{"data":{"name":"legendLabels"},"mark":{"type":"text","align":"left","fontSize":13,"color":"#222222"},"encoding":{"x":{"datum":68},"y":{"field":"p","type":"quantitative"},"text":{"field":"t"}}},
{"data":{"values":[{"t":"(m)","p":-0.58}]},"mark":{"type":"text","align":"center","fontSize":21,"color":"#111111"},"encoding":{"x":{"datum":51},"y":{"field":"p","type":"quantitative"},"text":{"field":"t"}}}
]},
{"width":416,"height":416,"view":{"stroke":"#b4b4b4"},
"encoding":{"x":{"field":"x","type":"quantitative","scale":{"domain":[13912,15576],"nice":false,"zero":false},"axis":null},"y":{"field":"y","type":"quantitative","scale":{"domain":[-298403,-296739],"nice":false,"zero":false},"axis":null}},
"resolve":{"axis":{"x":"independent","y":"independent"}},
"layer":[
{"data":{"name":"bFoot"},"mark":{"type":"line","order":null,"interpolate":"linear-closed","fill":"#000000","stroke":"#000000","strokeWidth":0.5},
"encoding":{"detail":{"field":"id"},
"x":{"field":"x","type":"quantitative","axis":{"orient":"bottom","values":[14000,14200,14400,14600,14800,15000,15200,15400],"format":"d","domain":false,"grid":false,"tickSize":7,"tickColor":"#b4b4b4","labelColor":"#222222","labelFontSize":13,"labelPadding":3,"labelFont":"Liberation Sans","title":"July 1998 to May 1999","titleFont":"Liberation Serif","titleFontSize":24.5,"titleFontWeight":"normal","titleColor":"#111111","titleX":128,"titleY":67,"titleBaseline":"middle","titleAlign":"center"}},
"y":{"field":"y","type":"quantitative","axis":{"orient":"left","values":[-296800,-297000,-297200,-297400,-297600,-297800,-298000,-298200,-298400],"labelExpr":"'-'+format(abs(datum.value),'d')","domain":false,"grid":false,"tickSize":7,"tickColor":"#b4b4b4","labelColor":"#222222","labelFontSize":13,"labelPadding":1,"labelFont":"Liberation Sans","title":null}}}},
{"data":{"name":"bFoot"},"mark":{"type":"line","order":null,"interpolate":"linear-closed","stroke":"#000000","strokeWidth":0.5},
"encoding":{"detail":{"field":"id"},
"x":{"field":"x","type":"quantitative","axis":{"orient":"top","values":[14000,14200,14400,14600,14800,15000,15200,15400],"labels":false,"domain":false,"grid":false,"tickSize":6,"tickColor":"#b4b4b4","title":null}},
"y":{"field":"y","type":"quantitative","axis":{"orient":"right","values":[-296800,-297000,-297200,-297400,-297600,-297800,-298000,-298200,-298400],"labels":false,"domain":false,"grid":false,"tickSize":7,"tickColor":"#b4b4b4","title":null}}}},
{"data":{"name":"bGreyL"},"mark":{"type":"line","order":null,"interpolate":"linear-closed","fill":"#c8c8c8","stroke":"#c8c8c8","strokeWidth":0.5},"encoding":{"detail":{"field":"id"}}},
{"data":{"name":"bGreyS"},"mark":{"type":"line","order":null,"interpolate":"cardinal-closed","tension":0.3,"fill":"#c8c8c8","stroke":"#c8c8c8","strokeWidth":0.5},"encoding":{"detail":{"field":"id"}}},
{"data":{"name":"bBlack"},"mark":{"type":"line","order":null,"interpolate":"linear-closed","fill":"#000000","stroke":"#000000","strokeWidth":0.5},"encoding":{"detail":{"field":"id"}}},
{"data":{"name":"bWhite"},"mark":{"type":"line","order":null,"interpolate":"linear-closed","fill":"#ffffff","stroke":"#ffffff","strokeWidth":0.5},"encoding":{"detail":{"field":"id"}}},
{"data":{"name":"bLines"},"mark":{"type":"line","order":null,"interpolate":"linear","stroke":"#8f8f8f","strokeWidth":0.9},"encoding":{"detail":{"field":"id"}}},
{"data":{"name":"bHatch"},"mark":{"type":"rule","stroke":"#ffffff","strokeWidth":1.2},"encoding":{"x2":{"field":"x2"},"y2":{"field":"y2"}}},
{"data":{"name":"bText"},"transform":[{"filter":"datum.g=='r30'"}],"mark":{"type":"text","fontSize":11,"fontStyle":"italic","fontWeight":"bold","color":"#111111","angle":30},"encoding":{"text":{"field":"t"}}},
{"data":{"name":"bText"},"transform":[{"filter":"datum.g=='r60'"}],"mark":{"type":"text","fontSize":11,"fontStyle":"italic","fontWeight":"bold","color":"#111111","angle":60},"encoding":{"text":{"field":"t"}}},
{"data":{"name":"bText"},"transform":[{"filter":"datum.g=='r80'"}],"mark":{"type":"text","fontSize":11,"fontStyle":"italic","fontWeight":"bold","color":"#111111","angle":80},"encoding":{"text":{"field":"t"}}},
{"data":{"values":[{"t":"(b)","x":14131,"y":-296915}]},"mark":{"type":"text","font":"Liberation Sans","fontSize":35,"fontWeight":"bold","color":"#000000"},"encoding":{"text":{"field":"t"}}}
]}
]
}
